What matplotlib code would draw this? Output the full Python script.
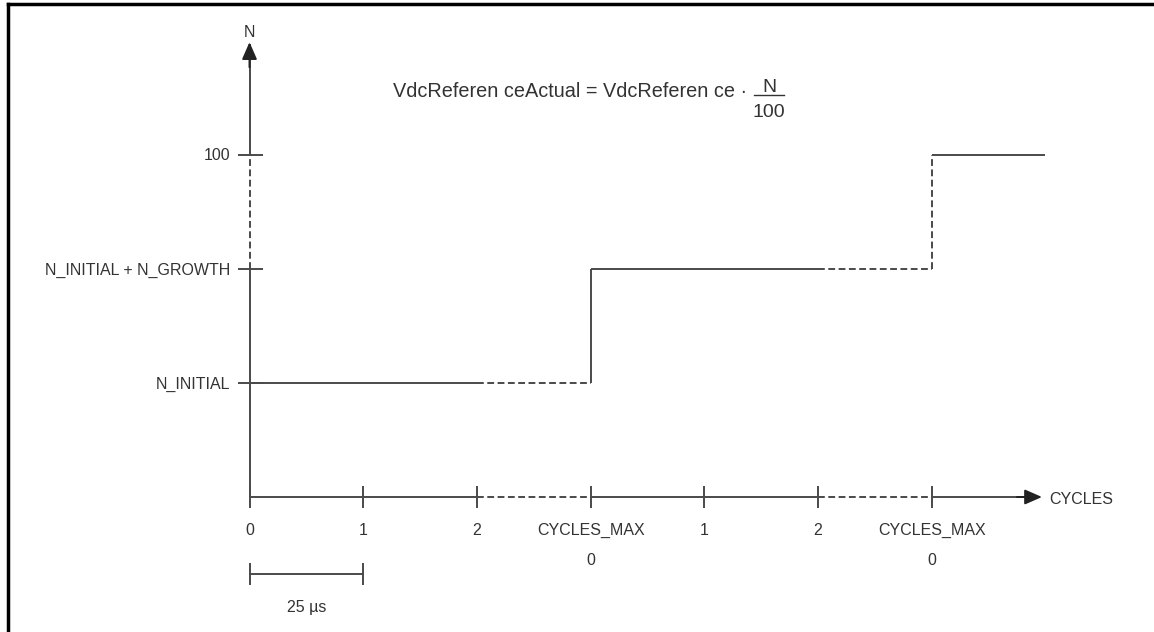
import matplotlib
matplotlib.use('Agg')
import matplotlib.pyplot as plt
from matplotlib.lines import Line2D

plt.rcParams['font.family'] = ['Liberation Sans', 'DejaVu Sans']

# cycle ticks on the horizontal axis
cycle_pos = [0, 1, 2, 3, 4, 5, 6]
cycle_labels = ['0', '1', '2', 'CYCLES_MAX', '1', '2', 'CYCLES_MAX']
cycle_labels2 = ['', '', '', '0', '', '', '0']

# N levels on the vertical axis
n_pos = [1, 2, 3]
n_labels = ['N_INITIAL', 'N_INITIAL + N_GROWTH', '100']

# N against cycles, one flag per segment (True = dashed)
step_x = [0, 2, 3, 3, 5, 6, 6, 7]
step_y = [1, 1, 1, 2, 2, 2, 3, 3]
step_dashed = [False, True, False, False, True, True, False]

# axis pieces, dashed where cycles are skipped
xaxis_pts = [0, 2, 3, 5, 6, 6.95]
xaxis_dashed = [False, True, False, True, False]
yaxis_pts = [0, 2, 3, 3.97]
yaxis_dashed = [False, True, False]

# 25 us scale bar under the first cycle
bar_x = [0, 1]
bar_level = -0.675

W, H = 1154, 632
fig = plt.figure(figsize=(W / 100, H / 100), dpi=100)
ax = fig.add_axes([0, 0, 1, 1])
ax.set_xlim(-249.5 / 113.7, (W - 249.5) / 113.7)
ax.set_ylim((497 - H) / 114, 497 / 114)
ax.axis('off')

lc = '#4a4a4a'
tc = '#333333'
lw = 1.4
dash = (3.5, 1.8)


def seg(xs, ys, dashed):
    if dashed:
        ax.plot(xs, ys, color=lc, lw=lw, dashes=dash, solid_capstyle='butt')
    else:
        ax.plot(xs, ys, color=lc, lw=lw, solid_capstyle='butt')


arrow = dict(arrowstyle='-|>,head_length=0.8,head_width=0.35',
             color='#222222', lw=lw, shrinkA=0, shrinkB=0, mutation_scale=13)

# horizontal axis
for i in range(len(xaxis_dashed)):
    seg(xaxis_pts[i:i + 2], [0, 0], xaxis_dashed[i])
ax.annotate('', xy=(xaxis_pts[-1] + 0.02, 0), xytext=(xaxis_pts[-1] - 0.2, 0),
            arrowprops=arrow)
# vertical axis
for i in range(len(yaxis_dashed)):
    seg([0, 0], yaxis_pts[i:i + 2], yaxis_dashed[i])
ax.annotate('', xy=(0, yaxis_pts[-1] + 0.02), xytext=(0, yaxis_pts[-1] - 0.2),
            arrowprops=arrow)

# ticks
ax.plot(cycle_pos, [0] * len(cycle_pos), ls='none', marker='|', ms=16.5,
        mew=lw, color=lc)
ax.plot([0] * len(n_pos), n_pos, ls='none', marker='_', ms=18, mew=lw, color=lc)

for x, lab, lab2 in zip(cycle_pos, cycle_labels, cycle_labels2):
    ax.annotate(lab, (x, 0), xytext=(0, -38), textcoords='offset pixels',
                ha='center', va='baseline', fontsize=11.5, color=tc)
    if lab2:
        ax.annotate(lab2, (x, 0), xytext=(0, -68), textcoords='offset pixels',
                    ha='center', va='baseline', fontsize=11.5, color=tc)

for y, lab in zip(n_pos, n_labels):
    ax.annotate(lab, (0, y), xytext=(-19, -5.5), textcoords='offset pixels',
                ha='right', va='baseline', fontsize=11.5, color=tc)

# step line
for i in range(len(step_dashed)):
    seg(step_x[i:i + 2], step_y[i:i + 2], step_dashed[i])

# scale bar
ax.plot(bar_x, [bar_level] * 2, color=lc, lw=lw)
ax.plot(bar_x, [bar_level] * 2, ls='none', marker='|', ms=16, mew=lw, color=lc)
ax.annotate('25 µs', (sum(bar_x) / 2, bar_level), xytext=(0, -38),
            textcoords='offset pixels', ha='center', va='baseline',
            fontsize=11.5, color=tc)

# axis names
ax.annotate('N', (0, yaxis_pts[-1]), xytext=(0, 7), textcoords='offset pixels',
            ha='center', va='baseline', fontsize=11.5, color=tc)
ax.annotate('CYCLES', (xaxis_pts[-1], 0), xytext=(10, -7),
            textcoords='offset pixels', ha='left', va='baseline',
            fontsize=11.5, color=tc)


def px(x, y):
    return x / W, 1 - y / H


# formula
fig.text(*px(393, 97), 'VdcReferen ceActual = VdcReferen ce ·', ha='left',
         va='baseline', fontsize=14.3, color=tc)
fig.text(*px(769, 92), 'N', ha='center', va='baseline', fontsize=14, color=tc)
fig.text(*px(769, 117), '100', ha='center', va='baseline', fontsize=14, color=tc)
fig.add_artist(Line2D([754 / W, 784 / W], [1 - 95 / H] * 2, color=tc, lw=1.0))

# frame around the figure
fig.add_artist(Line2D([8 / W, 8 / W], [0, 1 - 4 / H], color='black', lw=2.5))
fig.add_artist(Line2D([8 / W, 1], [1 - 4 / H] * 2, color='black', lw=2.5))

fig.savefig('out.png', dpi=100)
